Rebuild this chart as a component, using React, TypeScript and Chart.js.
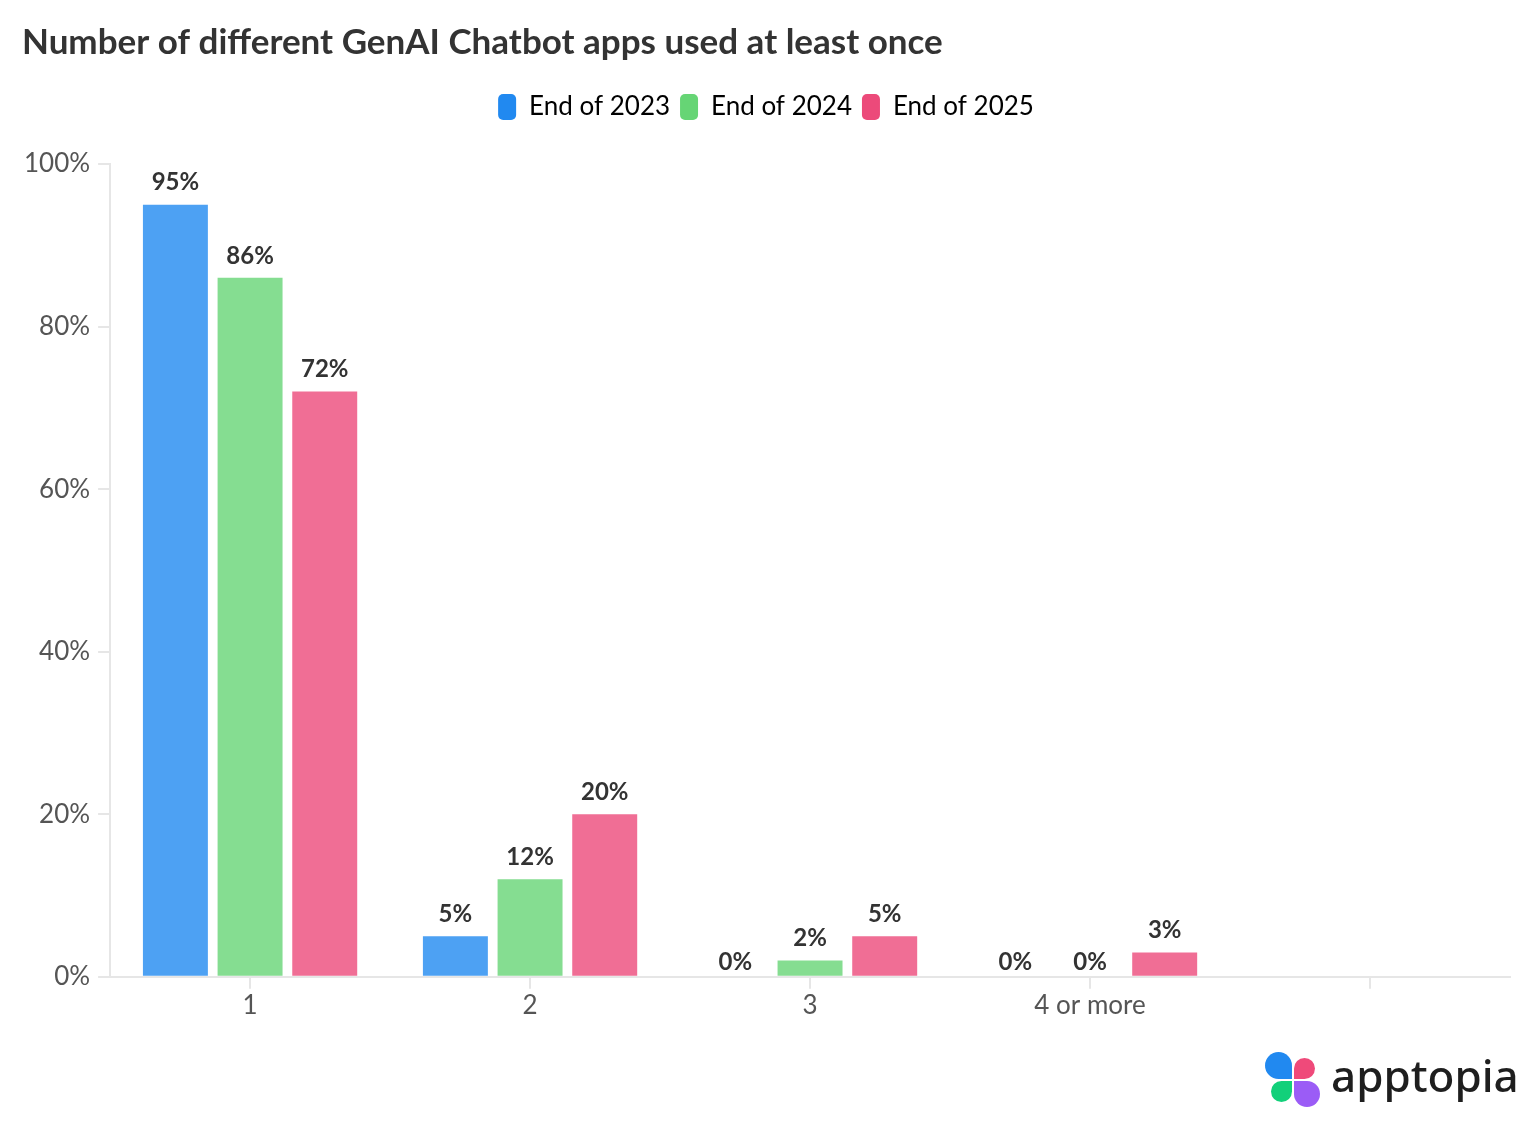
import React, { useEffect, useRef } from "react";
import { Chart, registerables } from "chart.js";

Chart.register(...registerables);

const titleText = "Number of different GenAI Chatbot apps used at least once";
const categories = ["1", "2", "3", "4 or more", ""];
const seriesNames = ["End of 2023", "End of 2024", "End of 2025"];
const values2023 = [95, 5, 0, 0, null];
const values2024 = [86, 12, 2, 0, null];
const values2025 = [72, 20, 5, 3, null];
const yTicks = [0, 20, 40, 60, 80, 100];
const seriesColors = ["#2189F0", "#66D575", "#EC4A7A"];
const barColors = ["rgba(33,137,240,0.8)", "rgba(102,213,117,0.8)", "rgba(236,74,122,0.8)"];

const FONT = "Lato, 'Noto Sans', sans-serif";

const valueLabelPlugin = {
  id: "valueLabels",
  afterDatasetsDraw(chart: any) {
    const ctx = chart.ctx;
    ctx.save();
    ctx.font = `bold 24px ${FONT}`;
    ctx.fillStyle = "#333333";
    ctx.textAlign = "center";
    ctx.textBaseline = "bottom";
    chart.data.datasets.forEach((ds: any, di: number) => {
      const meta = chart.getDatasetMeta(di);
      meta.data.forEach((el: any, i: number) => {
        const v = ds.data[i];
        if (v === null || v === undefined) return;
        const off = v === 0 ? 3 : 10;
        ctx.fillText(`${v}%`, el.x, el.y - off);
      });
    });
    ctx.restore();
  },
};

const legendSpacePlugin = {
  id: "legendSpace",
  beforeInit(chart: any) {
    const legend = chart.legend;
    if (!legend) return;
    const origFit = legend.fit;
    legend.fit = function () {
      origFit.call(this);
      this.height += 34;
    };
  },
};

export default function App() {
  const canvasRef = useRef<HTMLCanvasElement | null>(null);

  useEffect(() => {
    document.body.style.margin = "0";
    const canvas = canvasRef.current;
    if (!canvas) return;
    const allValues = [values2023, values2024, values2025];
    const chart = new Chart(canvas, {
      type: "bar",
      data: {
        labels: categories,
        datasets: seriesNames.map((name, i) => ({
          label: name,
          data: allValues[i],
          backgroundColor: barColors[i],
          borderWidth: 0,
          categoryPercentage: 0.8,
          barPercentage: 0.87,
        })),
      },
      options: {
        animation: false,
        responsive: false,
        maintainAspectRatio: false,
        layout: { padding: { left: 22, right: 26, top: 0, bottom: 110 } },
        plugins: {
          title: {
            display: true,
            text: titleText,
            align: "start",
            color: "#333333",
            font: { family: FONT, size: 35, weight: "bold" },
            padding: { top: 22, bottom: 20 },
          },
          legend: {
            display: true,
            position: "top",
            labels: {
              color: "#333333",
              font: { family: FONT, size: 26 },
              boxWidth: 18,
              boxHeight: 26,
              useBorderRadius: true,
              borderRadius: 5,
              padding: 10,
              generateLabels: (chart: any) =>
                chart.data.datasets.map((ds: any, i: number) => ({
                  text: ds.label,
                  fillStyle: seriesColors[i],
                  strokeStyle: seriesColors[i],
                  lineWidth: 0,
                  hidden: false,
                  datasetIndex: i,
                  borderRadius: 5,
                })),
            },
          } as any,
          tooltip: { enabled: false },
        },
        scales: {
          x: {
            grid: {
              display: true,
              drawOnChartArea: false,
              drawTicks: true,
              tickLength: 12,
              offset: false,
              color: "#e6e6e6",
              lineWidth: 2,
            },
            border: { display: true, color: "#e6e6e6", width: 2 },
            ticks: {
              color: "#555555",
              font: { family: FONT, size: 26 },
              padding: 1,
            },
          },
          y: {
            min: 0,
            max: 100,
            afterBuildTicks: (axis: any) => {
              axis.ticks = yTicks.map((v) => ({ value: v }));
            },
            afterFit: (axis: any) => {
              axis.width -= 6;
            },
            grid: {
              display: true,
              drawOnChartArea: false,
              drawTicks: true,
              tickLength: 12,
              color: "#e6e6e6",
              lineWidth: 2,
            },
            border: { display: true, color: "#e6e6e6", width: 2 },
            ticks: {
              color: "#555555",
              font: { family: FONT, size: 26 },
              padding: 8,
              callback: (v: any) => `${v}%`,
            },
          },
        },
      },
      plugins: [valueLabelPlugin, legendSpacePlugin],
    });
    return () => chart.destroy();
  }, []);

  const petal = (left: number, top: number, size: number, color: string, radius: string) => (
    <div
      style={{
        position: "absolute",
        left,
        top,
        width: size,
        height: size,
        background: color,
        borderRadius: radius,
      }}
    />
  );

  return (
    <div style={{ position: "relative", width: 1536, height: 1132, background: "#ffffff" }}>
      <canvas ref={canvasRef} width={1536} height={1132} style={{ display: "block" }} />
      <div style={{ position: "absolute", left: 1264, top: 1050, width: 272, height: 60 }}>
        {petal(1, 2, 27, "#2189F0", "50% 50% 0 50%")}
        {petal(30, 8, 21, "#EF4A7A", "50% 50% 50% 0")}
        {petal(7, 31, 21, "#12D07A", "50% 0 50% 50%")}
        {petal(30, 31, 26, "#9B5CF6", "0 50% 50% 50%")}
        <div
          style={{
            position: "absolute",
            left: 67,
            top: -5,
            fontFamily: "'Noto Sans', sans-serif",
            fontSize: 44,
            fontWeight: 500,
            color: "#1e1e1e",
            letterSpacing: 0,
            lineHeight: "60px",
          }}
        >
          apptopia
        </div>
      </div>
    </div>
  );
}
